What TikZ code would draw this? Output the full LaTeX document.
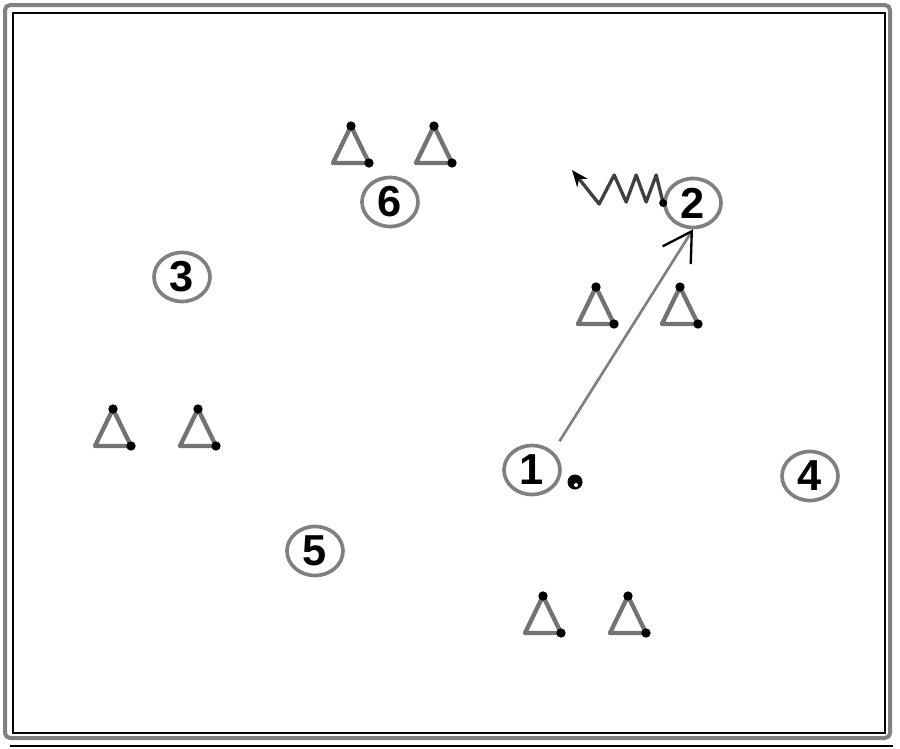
\documentclass[tikz,border=0pt]{standalone}
\usepackage{fontspec}
\setsansfont{Liberation Sans}
\usetikzlibrary{arrows.meta,shapes.geometric}

\begin{document}
\begin{tikzpicture}[x=0.03cm,y=-0.03cm,
  player/.style={ellipse,draw=black!50,line width=0.11cm,minimum width=1.68cm,minimum height=1.47cm,inner sep=0pt,font=\sffamily\bfseries\fontsize{37}{37}\selectfont},
  ball/.style={circle,fill=black,minimum size=0.45cm,inner sep=0pt},
  pass/.style={black!50,line width=0.08cm,shorten <=0.36cm,-{Straight Barb[length=0.85cm,width=1cm,color=black,line width=0.07cm]}},
  dribble/.style={black!75,line width=0.1cm,line join=round,-{Stealth[length=0.5cm,width=0.4cm,color=black]}},
  cone/.pic={
    \draw[black!55,line width=0.13cm,line join=round] (-18,18) -- (0,-19) -- (18,18) -- cycle;
    \fill (0,-19) circle [radius=0.14cm];
    \fill (18,18) circle [radius=0.14cm];
  }]
\useasboundingbox (0,0) rectangle (900,748);
\draw[black!50,line width=0.12cm,rounded corners=0.15cm] (5,5) rectangle (890,738);
\draw[line width=0.04cm] (13,13) rectangle (885,733);
\draw[line width=0.04cm] (10,746) -- (893,746);

\pic at (351,145) {cone};
\pic at (434,145) {cone};
\pic at (596,306) {cone};
\pic at (680,306) {cone};
\pic at (113,428) {cone};
\pic at (198,428) {cone};
\pic at (543,615) {cone};
\pic at (628,615) {cone};

\node[player] (p6) at (390,202) {6};
\node[player] (p3) at (182,277) {3};
\node[player] (p2) at (693,203) {2};
\node[player] (p1) at (532,470) {1};
\node[player] (p4) at (810,476) {4};
\node[player] (p5) at (315,551) {5};

\node[ball] (b) at (575,482) {};
\fill[white] (576,485) circle [radius=0.06cm];

\draw[pass] (p1.north east) -- (p2.south);

\coordinate (d) at (572,170);
\draw[dribble] (p2.west) -- ++(-7,-28) -- ++(-10,27) -- ++(-10,-27) -- ++(-10,27) -- ++(-12,-27) -- ++(-15,29) -- (d);
\fill (p2.west) circle [radius=0.12cm];
\end{tikzpicture}
\end{document}
